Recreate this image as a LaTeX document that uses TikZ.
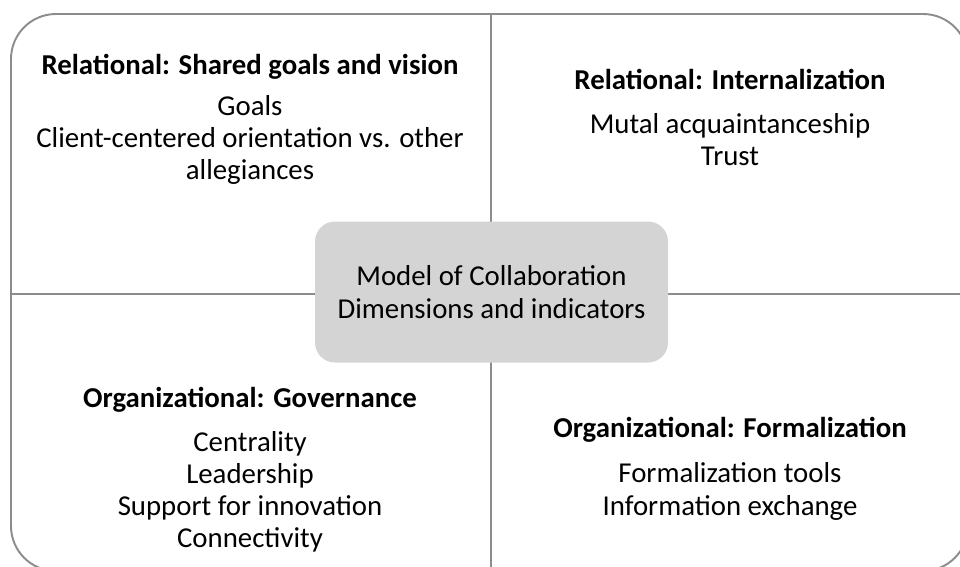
\documentclass[tikz,border=0pt]{standalone}
\usepackage{fontspec}
\setmainfont{Carlito}
\usetikzlibrary{positioning}
\definecolor{framegray}{HTML}{8C8C8C}
\definecolor{hubgray}{HTML}{D4D4D4}
\begin{document}
\begin{tikzpicture}[
            x=0.02cm, y=-0.02cm,
            node distance=0.43cm,
            title node/.style={font=\fontsize{16.4}{18.3}\selectfont\bfseries, inner sep=0pt, anchor=base},
            body node/.style={font=\fontsize{16.4}{18.3}\selectfont, align=center, inner sep=0pt, anchor=north},
            hub node/.style={fill=hubgray, rounded corners=0.4cm, minimum width=353*0.02cm, minimum height=141*0.02cm, align=center, font=\fontsize{16.4}{18.8}\selectfont},
            split line/.style={draw=framegray, line width=0.8pt},
        ]
            \useasboundingbox (0,0) rectangle (960,566);
            \clip (0,0) rectangle (960,566);

            \draw[framegray, line width=1.1pt, rounded corners=0.9cm] (11,14) rectangle (968,571);

            \coordinate (top) at (491,14);
            \coordinate (bottom) at (491,571);
            \coordinate (left) at (11,294);
            \coordinate (right) at (968,294);
            \path[split line] (top) -- (bottom);
            \path[split line] (left) -- (right);

            \node[hub node] (hub) at (491.5,292) {Model of Collaboration\\Dimensions and indicators};

            % relational quadrants
            \node[title node] (shared) at (250,74) {Relational: Shared goals and vision};
            \node[body node, below=0.37cm of shared.base] (sharedlist) {\strut Goals\\Client-centered orientation vs. other\\allegiances};
            \node[title node] (intern) at (730,89) {Relational: Internalization};
            \node[body node, below=of intern.base] (internlist) {\strut Mutal acquaintanceship\\Trust};

            % organizational quadrants
            \node[title node] (govern) at (250,407) {Organizational: Governance};
            \node[body node, below=of govern.base] (governlist) {\strut Centrality\\Leadership\\Support for innovation\\Connectivity};
            \node[title node] (formal) at (730,437) {Organizational: Formalization};
            \node[body node, below=0.46cm of formal.base] (formallist) {\strut Formalization tools\\Information exchange};
        \end{tikzpicture}
\end{document}
